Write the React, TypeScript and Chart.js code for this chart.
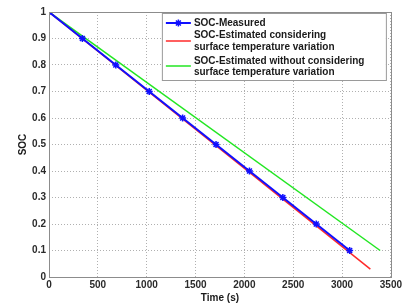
import React, { useEffect, useRef } from "react";
import { Chart, registerables } from "chart.js";

Chart.register(...registerables);

// Measured SOC points
const MEASURED_TIME = [0, 342, 684, 1026, 1368, 1710, 2052, 2394, 2736, 3078];
const MEASURED_SOC = [1.0, 0.9, 0.8, 0.7, 0.6, 0.5, 0.4, 0.3, 0.2, 0.1];
// Estimated considering surface temperature variation (line endpoints)
const EST_TEMP_TIME = [0, 3290];
const EST_TEMP_SOC = [1.0, 0.03];
// Estimated without considering surface temperature variation
const EST_NOTEMP_TIME = [0, 3390];
const EST_NOTEMP_SOC = [1.0, 0.1];

const X_TICKS = [0, 500, 1000, 1500, 2000, 2500, 3000, 3500];
const Y_TICKS = [0, 0.1, 0.2, 0.3, 0.4, 0.5, 0.6, 0.7, 0.8, 0.9, 1];

const LEGEND_LABELS = [
  ["SOC-Measured"],
  ["SOC-Estimated considering", "surface temperature variation"],
  ["SOC-Estimated without considering", "surface temperature variation"],
];

const FONT = "'Liberation Sans', Arial, sans-serif";

const toPts = (xs: number[], ys: number[]) => xs.map((x, i) => ({ x, y: ys[i] }));

const legendPlugin = {
  id: "innerLegend",
  afterDraw(chart: any) {
    const { ctx, chartArea } = chart;
    const bx = chartArea.right - 229;
    const by = chartArea.top + 1;
    const bw = 224;
    const bh = 67;
    ctx.save();
    ctx.fillStyle = "#ffffff";
    ctx.fillRect(bx, by, bw, bh);
    ctx.strokeStyle = "#9a9a9a";
    ctx.lineWidth = 1;
    ctx.strokeRect(bx + 0.5, by + 0.5, bw, bh);
    ctx.font = `bold 10px ${FONT}`;
    ctx.fillStyle = "#1a1a1a";
    ctx.textBaseline = "middle";
    ctx.textAlign = "left";
    const rows = [
      { lines: [by + 10], sample: by + 10 },
      { lines: [by + 22, by + 34], sample: by + 28 },
      { lines: [by + 48, by + 59], sample: by + 53 },
    ];
    const lx0 = bx + 4;
    const lx1 = bx + 29;
    const tx = bx + 32;
    chart.data.datasets.forEach((ds: any, i: number) => {
      const r = rows[i];
      ctx.strokeStyle = ds.borderColor;
      ctx.lineWidth = ds.borderWidth;
      ctx.beginPath();
      ctx.moveTo(lx0, r.sample);
      ctx.lineTo(lx1, r.sample);
      ctx.stroke();
      if (ds.pointRadius > 0) {
        const cx = (lx0 + lx1) / 2;
        const rr = 3.5;
        ctx.lineWidth = 1.5;
        ctx.beginPath();
        for (let k = 0; k < 4; k++) {
          const a = (Math.PI / 4) * k;
          ctx.moveTo(cx - rr * Math.cos(a), r.sample - rr * Math.sin(a));
          ctx.lineTo(cx + rr * Math.cos(a), r.sample + rr * Math.sin(a));
        }
        ctx.stroke();
      }
      ctx.fillStyle = "#1a1a1a";
      LEGEND_LABELS[i].forEach((t, j) => ctx.fillText(t, tx, r.lines[j]));
    });
    ctx.restore();
  },
};

const framePlugin = {
  id: "frame",
  afterDatasetsDraw(chart: any) {
    const { ctx, chartArea } = chart;
    ctx.save();
    ctx.strokeStyle = "#8c8c8c";
    ctx.lineWidth = 1;
    ctx.strokeRect(
      Math.round(chartArea.left) + 0.5,
      Math.round(chartArea.top) + 0.5,
      Math.round(chartArea.right - chartArea.left),
      Math.round(chartArea.bottom - chartArea.top)
    );
    ctx.restore();
  },
};

export default function App() {
  const ref = useRef<HTMLCanvasElement | null>(null);
  useEffect(() => {
    if (!ref.current) return;
    const chart = new Chart(ref.current, {
      type: "scatter",
      data: {
        datasets: [
          {
            label: LEGEND_LABELS[0].join(" "),
            data: toPts(MEASURED_TIME, MEASURED_SOC),
            showLine: true,
            borderColor: "#1010ff",
            backgroundColor: "#1010ff",
            borderWidth: 2,
            pointStyle: "star",
            pointRadius: 3.5,
            pointBorderWidth: 1.5,
            pointBorderColor: "#1010ff",
          },
          {
            label: LEGEND_LABELS[1].join(" "),
            data: toPts(EST_TEMP_TIME, EST_TEMP_SOC),
            showLine: true,
            borderColor: "#ff2a2a",
            backgroundColor: "#ff2a2a",
            borderWidth: 1.5,
            pointRadius: 0,
          },
          {
            label: LEGEND_LABELS[2].join(" "),
            data: toPts(EST_NOTEMP_TIME, EST_NOTEMP_SOC),
            showLine: true,
            borderColor: "#22e622",
            backgroundColor: "#22e622",
            borderWidth: 1.5,
            pointRadius: 0,
          },
        ],
      },
      options: {
        responsive: false,
        animation: false,
        layout: { padding: { left: 0, top: 12, right: 12, bottom: 0 } },
        plugins: { legend: { display: false }, tooltip: { enabled: false } },
        scales: {
          x: {
            type: "linear",
            min: 0,
            max: 3500,
            afterBuildTicks: (s: any) => {
              s.ticks = X_TICKS.map((v) => ({ value: v }));
            },
            afterFit: (s: any) => {
              s.height = 29;
            },
            ticks: {
              font: { family: FONT, size: 10, weight: "bold" },
              color: "#2a2a2a",
              padding: 2,
              maxRotation: 0,
              callback: (v: any) => String(v),
            },
            grid: {
              color: "#b0b0b0",
              drawTicks: false,
            },
            border: { display: false, dash: [1, 2] },
            title: {
              display: true,
              text: "Time (s)",
              font: { family: FONT, size: 10, weight: "bold" },
              color: "#1a1a1a",
              padding: { top: 0, bottom: 2 },
            },
          },
          y: {
            type: "linear",
            min: 0,
            max: 1,
            afterBuildTicks: (s: any) => {
              s.ticks = Y_TICKS.map((v) => ({ value: v }));
            },
            afterFit: (s: any) => {
              s.width = 49;
            },
            ticks: {
              font: { family: FONT, size: 10, weight: "bold" },
              color: "#2a2a2a",
              padding: 3,
              callback: (v: any) => String(Math.round(Number(v) * 10) / 10),
            },
            grid: {
              color: "#b0b0b0",
              drawTicks: false,
            },
            border: { display: false, dash: [1, 2] },
            title: {
              display: true,
              text: "SOC",
              font: { family: FONT, size: 10, weight: "bold" },
              color: "#1a1a1a",
              padding: { top: 17, bottom: 0 },
            },
          },
        },
      },
      plugins: [framePlugin, legendPlugin],
    });
    return () => chart.destroy();
  }, []);
  return (
    <div style={{ position: "absolute", left: 0, top: 0, width: 404, height: 306, background: "#fff" }}>
      <canvas ref={ref} width={404} height={306} />
    </div>
  );
}
